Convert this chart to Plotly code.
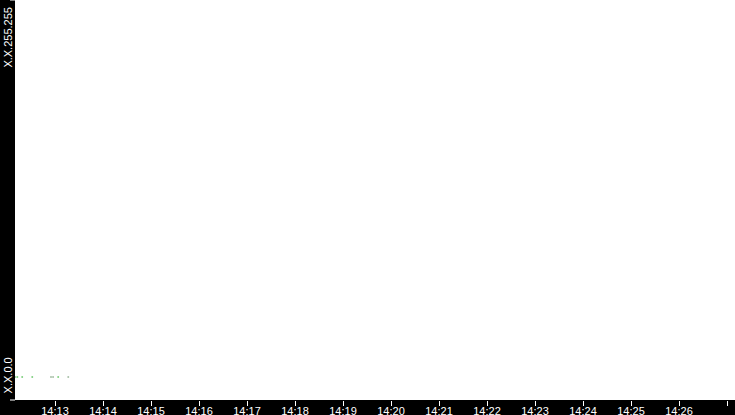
import plotly.graph_objects as go

# packet times seen and the address (last two octets as one number)
times = ["2024-01-01 14:12:10.4", "2024-01-01 14:12:12.9", "2024-01-01 14:12:19.0",
         "2024-01-01 14:12:31.6", "2024-01-01 14:12:55.0", "2024-01-01 14:12:57.6",
         "2024-01-01 14:13:04.0", "2024-01-01 14:13:16.6"]
addrs = [10, 10, 12, 12, 8, 8, 10, 9]
dot_colors = ["#9fd09f", "#80d080", "#80d080", "#80d080",
              "#a8c0a8", "#a8c0a8", "#80d080", "#a8c0a8"]

y_ticks = [0, 65535]
y_labels = ["X.X.0.0", "X.X.255.255"]

x_range = ["2024-01-01 14:12:10", "2024-01-01 14:27:10"]
y_range = [-4459, 73097]

fig = go.Figure()
fig.add_trace(go.Scatter(x=times, y=addrs, mode="markers",
                         marker=dict(size=2, color=dot_colors, line=dict(width=0)),
                         hoverinfo="x+y"))
# empty trace so the tick-mark axis gets drawn
fig.add_trace(go.Scatter(x=[], y=[], xaxis="x2", yaxis="y", mode="markers",
                         hoverinfo="skip"))

fig.update_layout(
    width=735, height=415,
    margin=dict(l=15, r=0, t=0, b=15, pad=0),
    paper_bgcolor="black", plot_bgcolor="white",
    showlegend=False,
    font=dict(family="Liberation Sans", size=11, color="white"),
    # second x axis only draws the tick marks, so the labels can sit close
    xaxis2=dict(overlaying="x", side="bottom", anchor="y", range=x_range,
                type="date", dtick=60000, tick0="2024-01-01 14:13:00",
                showticklabels=False, ticks="outside", ticklen=5, tickwidth=1,
                tickcolor="white", showgrid=False, zeroline=False,
                automargin=False),
)
fig.layout.xaxis.update(range=x_range, showgrid=False, zeroline=False, automargin=False,
                        dtick=60000, tick0="2024-01-01 14:13:00", tickformat="%H:%M",
                        ticks="", ticklabelstandoff=3, showline=False)
fig.update_yaxes(range=y_range, showgrid=False, zeroline=False, automargin=False,
                 tickmode="array", tickvals=y_ticks, ticktext=y_labels,
                 tickangle=-90, ticks="")

# outer ticks at both ends of the left axis
for yy in (0, 1):
    fig.add_shape(type="line", xref="paper", yref="paper",
                  x0=-5 / 720, x1=0, y0=yy, y1=yy,
                  line=dict(color="white", width=1))

# page has a default 8px body margin; drop it so the chart fills the window
fig.write_html("out.html", config=dict(displayModeBar=False),
               post_script="document.body.style.margin='0';"
                           "document.body.style.overflow='hidden';")
